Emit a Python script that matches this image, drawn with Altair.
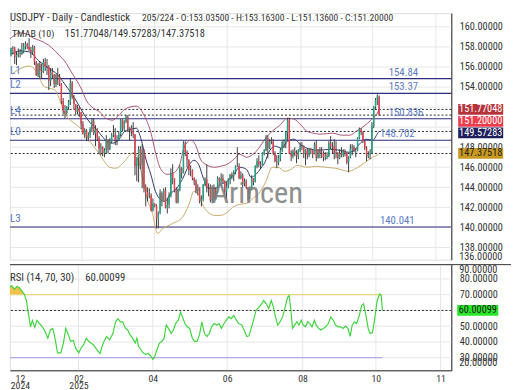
import altair as alt
import pandas as pd

# ---------------- data ----------------
# daily closes / highs / lows, 26 Dec 2024 .. 10 Oct 2025
close_dec = [157.88, 157.85, 156.98, 157.20]
close_jan = [157.40, 157.30, 157.60, 158.05, 158.30, 158.05, 157.70, 157.50, 158.00, 156.50, 155.20,
             156.30, 155.60, 155.50, 156.50, 156.00, 156.00, 154.60, 155.50, 155.20, 154.30, 155.20]
close_feb = [155.00, 154.30, 152.60, 151.60, 151.40, 152.00, 152.50, 154.40, 153.00, 152.30, 151.50,
             151.90, 151.50, 150.30, 149.30, 149.70, 149.00, 149.20, 149.80, 150.60]
close_mar = [149.40, 149.80, 148.90, 147.90, 148.00, 147.40, 147.70, 148.70, 147.80, 148.60, 149.20,
             149.30, 148.70, 148.70, 149.30, 150.70, 149.90, 150.60, 151.00, 149.80, 149.90]
close_apr = [149.60, 149.30, 146.10, 146.90, 147.80, 146.20, 147.70, 144.00, 143.50, 143.10, 143.20,
             141.70, 142.40, 142.20, 140.90, 141.50, 143.40, 142.60, 143.70, 142.00, 142.30, 143.10]
close_may = [145.40, 144.90, 143.70, 142.50, 143.80, 145.90, 145.40, 148.40, 147.50, 146.70, 145.70,
             145.70, 144.90, 144.60, 143.60, 144.00, 142.60, 142.80, 144.30, 144.80, 144.00, 144.00]
close_jun = [142.70, 144.00, 142.80, 143.50, 144.90, 144.60, 144.90, 144.60, 143.50, 144.10, 144.80,
             145.30, 145.10, 145.50, 146.10, 146.10, 144.90, 145.20, 144.40, 144.60, 144.00]
close_jul = [143.40, 143.70, 144.90, 144.50, 146.10, 146.60, 146.30, 146.20, 147.40, 147.70, 148.90,
             147.90, 148.60, 148.60, 147.40, 146.60, 146.50, 146.90, 147.70, 148.50, 148.50, 149.50, 150.70]
close_aug = [147.40, 147.10, 147.60, 147.40, 147.10, 147.70, 148.10, 148.10, 147.40, 147.70, 147.20,
             147.80, 147.70, 147.30, 148.30, 146.90, 147.70, 147.40, 147.40, 147.00, 147.00]
close_sep = [147.10, 148.40, 148.10, 148.10, 147.40, 147.50, 146.90, 147.40, 147.20, 147.60, 147.40,
             146.50, 146.90, 147.90, 148.00, 147.70, 147.70, 148.90, 149.80, 149.50, 148.60, 147.90]
close_oct = [147.10, 147.30, 147.40, 150.10, 152.00, 152.70, 153.03, 151.20]

high_dec = [157.93, 158.08, 158.00, 157.50]
high_jan = [157.85, 157.80, 158.40, 158.40, 158.55, 158.40, 158.87, 158.00, 158.20, 158.10, 156.60,
            156.40, 156.60, 156.30, 156.80, 156.90, 156.80, 156.20, 155.90, 155.90, 155.30, 155.30]
high_feb = [155.90, 155.30, 154.40, 152.90, 152.20, 152.10, 152.70, 154.80, 154.60, 153.20, 152.20,
            152.20, 152.00, 151.50, 150.60, 149.90, 149.80, 149.50, 150.00, 150.90]
high_mar = [150.90, 150.20, 149.90, 149.10, 148.40, 148.10, 147.90, 149.20, 148.80, 148.90, 149.40,
            150.20, 149.90, 149.20, 149.60, 150.80, 150.80, 150.70, 151.20, 151.20, 150.00]
high_apr = [150.20, 150.50, 149.30, 147.00, 148.10, 148.10, 148.30, 147.80, 144.30, 144.00, 143.90,
            143.40, 142.90, 142.40, 142.30, 141.60, 143.80, 143.60, 143.90, 144.00, 142.90, 143.50]
high_may = [145.90, 146.30, 144.90, 144.00, 143.90, 146.20, 146.00, 148.60, 148.60, 147.70, 146.80,
            146.20, 145.80, 145.00, 144.80, 144.30, 144.00, 143.20, 144.30, 145.00, 146.30, 144.40]
high_jun = [144.30, 144.20, 144.30, 144.00, 145.10, 145.00, 145.40, 145.30, 144.70, 144.50, 144.90,
            145.30, 145.50, 145.70, 146.20, 148.00, 146.40, 145.60, 145.40, 144.90, 144.80]
high_jul = [144.00, 144.10, 145.20, 144.90, 146.20, 146.90, 147.20, 146.60, 147.50, 147.80, 149.20,
            149.20, 148.80, 149.00, 148.80, 147.60, 147.20, 147.20, 147.90, 148.60, 148.80, 149.50, 150.90]
high_aug = [150.90, 147.70, 147.80, 148.00, 147.70, 147.80, 148.50, 148.50, 148.20, 147.80, 147.90,
            147.90, 147.90, 147.70, 148.50, 148.70, 147.80, 148.00, 148.00, 147.60, 147.50]
high_sep = [147.50, 148.60, 149.10, 148.50, 148.80, 148.60, 147.50, 147.80, 148.00, 147.80, 147.80,
            147.50, 147.10, 148.30, 148.30, 148.20, 147.90, 149.00, 149.96, 149.90, 149.60, 148.70]
high_oct = [148.10, 147.60, 147.80, 150.50, 152.10, 152.90, 153.27, 153.163]

low_dec = [157.05, 157.25, 156.30, 156.20]
low_jan = [156.95, 156.95, 157.20, 157.35, 157.75, 157.80, 157.60, 156.90, 157.20, 156.20, 155.10,
           155.00, 154.80, 154.90, 155.40, 155.60, 155.20, 153.70, 154.10, 154.90, 153.90, 154.00]
low_feb = [154.20, 154.10, 152.30, 151.30, 150.90, 151.30, 151.70, 152.20, 152.80, 151.80, 151.20,
           151.30, 151.00, 149.80, 149.30, 148.90, 148.60, 148.60, 148.90, 149.50]
low_mar = [149.20, 148.10, 148.60, 147.30, 147.20, 147.10, 147.00, 147.40, 147.40, 147.70, 148.40,
           149.00, 148.20, 148.20, 148.60, 149.10, 149.60, 149.60, 150.40, 149.50, 148.70]
low_apr = [149.10, 148.90, 145.20, 144.60, 144.50, 145.80, 143.90, 143.50, 142.10, 142.60, 142.90,
           141.60, 141.60, 142.00, 139.90, 139.90, 141.30, 142.10, 142.60, 141.90, 141.40, 141.90]
low_may = [143.00, 144.30, 143.50, 142.40, 142.40, 143.60, 144.90, 145.40, 147.10, 146.00, 145.20,
           145.10, 144.70, 144.20, 143.40, 143.20, 142.40, 142.10, 142.60, 144.10, 143.50, 143.10]
low_jun = [142.50, 142.40, 142.60, 142.80, 143.40, 144.30, 144.50, 144.40, 143.20, 142.80, 143.90,
           144.30, 144.80, 144.60, 145.30, 146.00, 144.80, 144.80, 144.00, 144.10, 143.80]
low_jul = [142.70, 142.80, 143.70, 144.20, 144.50, 145.90, 146.00, 145.80, 146.20, 147.20, 147.60,
           146.90, 147.80, 148.30, 147.20, 146.50, 145.90, 146.20, 146.60, 147.50, 147.90, 147.90, 148.60]
low_aug = [147.30, 146.60, 146.90, 147.10, 146.40, 146.80, 147.50, 147.70, 146.90, 146.20, 146.80,
           147.00, 147.30, 146.90, 147.30, 146.60, 146.90, 146.90, 146.90, 146.60, 146.70]
low_sep = [146.80, 147.00, 147.80, 147.40, 146.80, 146.90, 146.30, 146.80, 147.00, 147.00, 147.10,
           146.30, 145.50, 146.90, 147.20, 147.50, 147.00, 147.60, 148.80, 149.20, 148.40, 147.70]
low_oct = [146.60, 146.90, 146.80, 147.40, 149.90, 151.80, 152.20, 151.136]

first_open = 157.20

# TMA bands (bar index, value)
tma_up_bar = [-1.1, 2.1, 4.7, 8.5, 12.2, 16.5, 20.7, 24.5, 27.1, 29.8, 33.5, 36.7, 38.9, 42.1, 45.8, 49.5,
              52.7, 56.5, 59.6, 62.8, 66.0, 69.8, 74.0, 77.8, 80.4, 83.1, 86.8, 90.0, 93.8, 96.4, 100.2,
              102.8, 105.5, 108.2, 113.5, 116.7, 120.4, 124.1, 127.3, 131.1, 134.8, 138.0, 141.7, 145.5,
              149.7, 154.0, 157.7, 161.5, 164.7, 168.4, 172.1, 179.1, 184.4, 188.6, 192.4, 196.6, 200.4,
              204.6, 205.0]
tma_up_val = [158.7, 159.2, 159.4, 159.3, 158.9, 158.6, 158.2, 157.6, 157.1, 156.6, 155.5, 154.6, 153.9,
              152.6, 151.9, 151.5, 150.9, 150.7, 151.1, 151.7, 152.0, 152.1, 151.2, 149.5, 147.5, 145.9,
              145.3, 145.4, 146.2, 148.0, 148.7, 148.2, 146.8, 146.3, 146.0, 146.1, 146.3, 146.8, 147.3,
              147.0, 147.3, 147.9, 148.9, 149.6, 150.2, 150.9, 150.8, 150.2, 149.6, 149.4, 149.3, 149.4,
              149.2, 149.2, 149.6, 150.1, 150.7, 151.6, 151.77048]
tma_mid_bar = [0.5, 4.7, 10.1, 15.4, 20.7, 26.1, 29.8, 33.5, 36.7, 40.5, 44.2, 47.4, 51.1, 53.8, 56.5,
               60.2, 63.4, 67.1, 69.8, 72.4, 75.1, 77.8, 80.4, 83.1, 85.8, 88.4, 92.2, 95.4, 99.1, 101.8,
               104.4, 107.1, 109.8, 113.5, 116.7, 120.4, 124.1, 127.3, 131.1, 133.7, 136.4, 139.1, 141.7,
               143.3, 147.1, 150.8, 154.0, 157.7, 161.5, 166.8, 172.1, 177.4, 182.8, 188.1, 191.3, 194.0,
               197.7, 201.4, 204.6, 205.0]
tma_mid_val = [157.3, 157.6, 157.5, 156.6, 155.9, 155.2, 154.3, 153.4, 152.5, 151.3, 150.4, 149.8, 149.0,
               148.5, 148.4, 148.8, 149.6, 149.8, 149.9, 148.8, 146.8, 145.3, 143.6, 142.8, 142.6, 143.3,
               143.9, 144.8, 146.2, 146.7, 146.3, 144.9, 143.9, 143.9, 144.3, 144.6, 145.3, 146.0, 145.8,
               145.0, 145.3, 145.9, 146.6, 147.4, 148.1, 147.9, 148.6, 148.8, 148.2, 147.8, 147.7, 147.8,
               147.7, 147.5, 147.7, 148.3, 148.8, 148.7, 149.5, 149.57283]
tma_low_bar = [0.5, 4.7, 10.1, 14.9, 18.1, 20.7, 24.5, 27.1, 29.8, 33.5, 36.7, 40.5, 44.2, 48.5, 51.1,
               54.9, 58.1, 62.8, 66.0, 68.7, 70.8, 73.5, 76.2, 78.8, 80.4, 81.5, 84.7, 90.0, 95.4, 99.1,
               101.8, 104.4, 107.1, 109.8, 113.5, 116.7, 120.4, 124.1, 127.3, 131.1, 134.8, 138.0, 141.7,
               145.5, 148.7, 152.4, 156.1, 159.3, 164.7, 170.0, 175.3, 180.7, 188.1, 191.3, 195.0, 198.8,
               201.4, 204.6, 205.0]
tma_low_val = [155.3, 155.8, 156.1, 155.3, 154.1, 153.9, 153.7, 152.7, 151.4, 150.6, 150.2, 149.5, 148.5,
               147.5, 146.8, 146.0, 145.9, 146.5, 147.2, 147.5, 146.8, 144.6, 142.6, 141.4, 140.0, 139.4,
               139.9, 140.4, 141.0, 142.3, 143.6, 143.3, 142.1, 141.5, 141.2, 141.2, 141.5, 142.1, 142.3,
               142.4, 142.9, 143.4, 144.5, 146.0, 146.0, 145.6, 145.8, 146.2, 146.0, 146.1, 146.0, 145.9,
               145.6, 145.8, 146.2, 146.7, 147.0, 147.3, 147.37518]

# RSI (bar index, value)
rsi_bar = [-0.7, 0.5, 1.7, 3.1, 4.6, 5.8, 7.1, 8.5, 9.9, 11.1, 12.0, 13.3, 14.3, 15.6, 16.8, 18.2, 19.7,
           21.3, 22.7, 24.1, 25.4, 26.6, 28.0, 29.8, 31.2, 32.5, 33.9, 35.1, 36.6, 37.8, 39.6, 40.8, 42.2,
           43.7, 44.9, 46.2, 47.5, 49.4, 51.1, 52.9, 54.7, 56.4, 58.2, 59.6, 60.9, 62.2, 63.5, 65.0, 66.2,
           67.5, 68.9, 70.3, 71.2, 72.1, 73.3, 74.6, 76.0, 77.4, 78.7, 79.9, 81.0, 82.2, 83.5, 84.9, 86.1,
           87.2, 88.4, 89.9, 91.1, 92.3, 93.8, 95.0, 96.1, 97.3, 98.6, 100.0, 101.4, 102.7, 104.0, 105.3,
           106.6, 108.0, 109.4, 110.7, 111.9, 113.3, 114.7, 116.0, 117.2, 118.7, 120.0, 121.3, 122.7, 124.0,
           125.4, 126.7, 128.4, 129.6, 131.1, 132.3, 133.7, 135.0, 136.2, 137.8, 139.1, 140.3, 141.7, 143.0,
           144.4, 145.6, 146.7, 148.0, 149.2, 150.6, 152.0, 153.3, 154.2, 155.1, 156.0, 157.2, 158.3, 159.5,
           160.8, 161.8, 163.1, 164.3, 165.4, 166.6, 167.9, 168.9, 170.2, 171.4, 172.8, 174.1, 175.5, 176.9,
           178.2, 179.4, 180.8, 182.2, 183.5, 184.8, 186.2, 187.4, 188.5, 189.7, 190.9, 192.4, 193.6, 194.7,
           196.0, 197.2, 198.2, 199.5, 200.8, 202.1, 203.4, 204.3, 205.0]
rsi_val = [81.8, 75.6, 74.5, 75.6, 73.4, 75.2, 74.5, 72.4, 70.3, 66.1, 58.9, 49.6, 53.7, 49.2, 53.7, 51.7,
           49.6, 46.5, 42.4, 47.6, 48.6, 42.4, 33.1, 33.1, 39.3, 48.6, 44.5, 40.4, 41.0, 36.2, 33.1, 36.2,
           38.3, 42.4, 40.4, 39.3, 38.3, 35.2, 32.7, 39.3, 43.5, 41.4, 45.5, 52.8, 54.8, 52.8, 52.8, 48.6,
           47.6, 44.5, 42.4, 39.3, 42.4, 37.3, 35.2, 33.1, 32.1, 32.7, 31.1, 29.0, 31.1, 35.2, 39.3, 40.4,
           42.4, 50.7, 48.6, 45.5, 47.6, 51.7, 53.8, 58.9, 55.9, 51.7, 49.6, 48.6, 42.4, 40.4, 40.4, 44.5,
           52.8, 45.5, 43.5, 45.5, 49.6, 51.7, 50.7, 51.7, 48.6, 51.7, 53.8, 55.9, 54.8, 56.9, 53.8, 51.7,
           50.7, 47.6, 43.5, 43.9, 49.6, 54.8, 60.3, 62.1, 64.2, 66.3, 64.2, 61.1, 66.3, 62.1, 55.9, 50.7,
           52.8, 55.9, 62.1, 68.3, 69.4, 60.1, 48.6, 50.7, 52.8, 50.7, 53.8, 50.7, 49.6, 52.8, 51.7, 49.6,
           53.8, 50.7, 48.6, 47.6, 48.6, 49.6, 51.7, 55.9, 53.8, 50.7, 49.6, 49.6, 48.6, 50.1, 48.6, 43.5,
           50.7, 52.8, 51.7, 56.9, 63.1, 64.2, 56.9, 48.6, 45.5, 45.9, 54.8, 66.3, 70.4, 69.4, 60.00099]

levels = [154.84, 153.37, 150.836, 148.702, 140.041]
level_tags = ["L1", "L2", "L4", "L0", "L3"]
level_texts = ["154.84", "153.37", "150.836", "148.702", "140.041"]

last_vals = [151.77048, 151.20000, 149.57283, 147.37518]
last_txts = ["151.77048", "151.20000", "149.57283", "147.37518"]
rsi_last = 60.00099
rsi_bounds = [70, 30]
rsi_span = [0, 205]

# tick labels that the reference shows (150, 152 and 60 lie hidden under the value boxes)
price_ticks = [138, 140, 142, 144, 146, 148, 154, 156, 158, 160]
price_tick_low = [136]
rsi_ticks = [30, 40, 50, 70, 80]
rsi_grid_vals = [30, 40, 50, 60, 70, 80]
rsi_tick_top = [90]
rsi_tick_bottom = [20]
price_grid_vals = [138, 140, 142, 144, 146, 148, 150, 152, 154, 156, 158, 160]

month_grid = [-0.6, 39.4, 79.9, 120.4, 161.5, 201.4, 236.6]
month_label_pos = [7.5, 39.4, 79.9, 120.4, 161.5, 201.4, 236.6]
month_labels = [["12", "2024"], ["02", "2025"], ["04"], ["06"], ["08"], ["10"], ["11"]]

header_1 = "USDJPY - Daily - Candlestick"
header_2 = "205/224 - O:153.03500 - H:153.16300 - L:151.13600 - C:151.20000"
tma_title = "TMAB (10)"
tma_values = "151.77048/149.57283/147.37518"
rsi_title = "RSI (14, 70, 30)"
rsi_value_txt = "60.00099"
watermark = "Arincen"

# ---------------- styles ----------------
FONT = "Roboto Condensed, Liberation Sans, sans-serif"
TXT = "#333333"
GRID = "#e6e6e6"
NAVY = "#2d2d7d"
LVL_TXT = "#5b7bc4"
UP = "#22a385"
DOWN = "#e6414f"
WICK = "#3a3a3a"
C_UP_BAND = "#a9566b"
C_MID_BAND = "#2e3668"
C_LOW_BAND = "#c9aa6a"
RSI_LINE = "#3fd43f"
AX_FS = 10.5
W, H_MAIN, H_RSI = 451, 252, 108
Y_MAIN = [136.78, 161.37]
Y_RSI = [22.0, 89.07]
X_DOM = [2.08, 242.5]

close = (close_dec + close_jan + close_feb + close_mar + close_apr + close_may + close_jun + close_jul
         + close_aug + close_sep + close_oct)
high = (high_dec + high_jan + high_feb + high_mar + high_apr + high_may + high_jun + high_jul + high_aug
        + high_sep + high_oct)
low = (low_dec + low_jan + low_feb + low_mar + low_apr + low_may + low_jun + low_jul + low_aug + low_sep
       + low_oct)
n = min(len(close), len(high), len(low))
opens = [first_open] + close[: n - 1]
candles = pd.DataFrame({
    "i": list(range(n)),
    "open": opens,
    "close": close[:n],
    "high": [max(h, o, c) for h, o, c in zip(high[:n], opens, close[:n])],
    "low": [min(l, o, c) for l, o, c in zip(low[:n], opens, close[:n])],
})

xs = alt.Scale(domain=X_DOM, nice=False, zero=False)
ys = alt.Scale(domain=Y_MAIN, nice=False, zero=False, clamp=True)
yr = alt.Scale(domain=Y_RSI, nice=False, zero=False, clamp=True)

axis_main = alt.Axis(orient="right", values=price_ticks, format=".5f", ticks=False, labelPadding=8,
                     grid=False, domain=True, domainColor="#222222", title=None,
                     labelFont=FONT, labelFontSize=AX_FS, labelColor=TXT)

parts = []
for k, (pos, lab) in enumerate(zip(month_label_pos, month_labels)):
    arr = "[" + ",".join("'%s'" % s for s in lab) + "]"
    if k < len(month_label_pos) - 1:
        parts.append("datum.value < %s ? %s : " % ((pos + month_label_pos[k + 1]) / 2, arr))
    else:
        parts.append(arr)
label_expr = "".join(parts)

axis_x = alt.Axis(values=month_label_pos, labelExpr=label_expr, ticks=False, grid=False, domain=True,
                  domainColor="#222222", labelPadding=3, labelFont=FONT, labelFontSize=10,
                  labelLineHeight=8, labelColor=TXT, title=None)
axis_r = alt.Axis(orient="right", values=rsi_ticks, format=".5f", ticks=False, labelPadding=8, grid=False,
                  domain=True, domainColor="#222222", title=None, labelFont=FONT,
                  labelFontSize=AX_FS, labelColor=TXT)


def X(f):
    return alt.X(f, type="quantitative", scale=xs, axis=None)


def XR(f):
    return alt.X(f, type="quantitative", scale=xs, axis=axis_x)


def Y(f):
    return alt.Y(f, type="quantitative", scale=ys, axis=axis_main)


def YR(f):
    return alt.Y(f, type="quantitative", scale=yr, axis=axis_r)


def label(txt, x, y, size=11, color=TXT, align="left", baseline="middle"):
    return alt.Chart(pd.DataFrame({"t": [txt]})).mark_text(
        align=align, baseline=baseline, font=FONT, fontSize=size, color=color
    ).encode(x=alt.value(x), y=alt.value(y), text="t:N")


# ---------------- main panel ----------------
grid_df = pd.DataFrame({"i": month_grid})
vgrid = alt.Chart(grid_df).mark_rule(color=GRID, strokeWidth=1, clip=True).encode(x=X("i"))
hgrid = alt.Chart(pd.DataFrame({"v": price_grid_vals})).mark_rule(color=GRID, strokeWidth=1).encode(
    y=Y("v"))

lv_df = pd.DataFrame({"v": levels, "tag": level_tags, "txt": level_texts,
                      "px": [387, 387, 387, 378, 378]})
lv_lines = alt.Chart(lv_df).mark_rule(color=NAVY, strokeWidth=1.1).encode(y=Y("v"))
lv_tags = alt.Chart(lv_df).mark_text(align="left", baseline="bottom", dy=-3, font=FONT, fontSize=11.5,
                                     color=LVL_TXT).encode(x=alt.value(0), y=Y("v"), text="tag:N")
lv_txts = alt.Chart(lv_df).mark_text(align="left", baseline="bottom", dy=-1, font=FONT, fontSize=11,
                                     color=LVL_TXT).encode(x=alt.X("px:Q", scale=None), y=Y("v"),
                                                           text="txt:N")

dot_df = pd.DataFrame({"v": last_vals})
dots = alt.Chart(dot_df).mark_rule(color="#222222", strokeWidth=1, strokeDash=[2, 2]).encode(y=Y("v"))


def band(bars, vals, color):
    d = pd.DataFrame({"i": bars, "v": vals})
    return alt.Chart(d).mark_line(color=color, strokeWidth=1, clip=True, interpolate="monotone").encode(
        x=X("i"), y=Y("v"))


b_up = band(tma_up_bar, tma_up_val, C_UP_BAND)
b_mid = band(tma_mid_bar, tma_mid_val, C_MID_BAND)
b_low = band(tma_low_bar, tma_low_val, C_LOW_BAND)

wicks = alt.Chart(candles).mark_rule(color=WICK, strokeWidth=1, clip=True).encode(
    x=X("i"), y=Y("low"), y2="high:Q")
bodies = alt.Chart(candles).mark_bar(size=1.5, clip=True).encode(
    x=X("i"), y=Y("open"), y2="close:Q",
    color=alt.condition("datum.close >= datum.open", alt.value(UP), alt.value(DOWN)))

wm = alt.Chart(pd.DataFrame({"t": [watermark]})).mark_text(
    align="left", baseline="alphabetic", font=FONT, fontSize=31, color="#7b7b7b", opacity=0.85
).encode(x=alt.value(206), y=alt.value(194), text="t:N")

ppu = H_MAIN / (Y_MAIN[1] - Y_MAIN[0])
shift_px = [0, 6.5, 1.5, 0]
half = 5.5
box_df = pd.DataFrame({
    "txt": last_txts,
    "c": [v - s / ppu for v, s in zip(last_vals, shift_px)],
    "bg": ["#b5343c", "#ec3d4c", "#1f1f5c", "#c99a22"],
    "fg": ["#ffffff", "#ffffff", "#ffffff", "#1e1e1e"],
})
box_df["top"] = box_df["c"] + half / ppu
box_df["bot"] = box_df["c"] - half / ppu
boxes = alt.Chart(box_df).mark_rect().encode(
    x=alt.value(458), x2=alt.value(504), y=Y("top"), y2="bot:Q", color=alt.Color("bg:N", scale=None))
box_txt = alt.Chart(box_df).mark_text(align="center", baseline="middle", font=FONT, fontSize=AX_FS).encode(
    x=alt.value(481), y=Y("c"), text="txt:N", color=alt.Color("fg:N", scale=None))

low_tick = alt.Chart(pd.DataFrame({"p": price_tick_low})).mark_text(
    align="left", baseline="middle", dy=-2.5, font=FONT, fontSize=AX_FS, color=TXT
).encode(x=alt.value(W + 8), y=Y("p"), text=alt.Text("p:Q", format=".5f"))

main = alt.layer(
    hgrid, vgrid, lv_lines, dots, b_up, b_low, b_mid, wicks, bodies, wm, lv_tags, lv_txts,
    boxes, box_txt, low_tick,
    label(header_1, 0, 5.5, size=11), label(header_2, 135, 5.5, size=9.8),
    label(tma_title, 2, 21.5, size=10.2), label(tma_values, 56, 21.5, size=10.7),
).properties(width=W, height=H_MAIN)

# ---------------- RSI panel ----------------
rsi_df = pd.DataFrame({"i": rsi_bar, "v": rsi_val})
rsi_line = alt.Chart(rsi_df).mark_line(color=RSI_LINE, strokeWidth=1.2, clip=True).encode(
    x=XR("i"), y=YR("v"))
rsi_fill = alt.Chart(rsi_df).transform_calculate(
    top="max(datum.v, 70)", base="70").mark_area(color="#f3bd3a", opacity=0.9, clip=True).encode(
    x=XR("i"), y=YR("top"), y2="base:Q")
rsi_vgrid = alt.Chart(grid_df).mark_rule(color=GRID, strokeWidth=1, clip=True).encode(x=XR("i"))
rsi_hgrid = alt.Chart(pd.DataFrame({"v": rsi_grid_vals})).mark_rule(color=GRID, strokeWidth=1).encode(
    y=YR("v"))
bnd_df = pd.DataFrame({"v": rsi_bounds, "a": [rsi_span[0]] * 2, "b": [rsi_span[1]] * 2,
                       "col": ["#e6d67c", "#b9a8e8"]})
rsi_bnd = alt.Chart(bnd_df).mark_rule(strokeWidth=1.3, clip=True).encode(
    x=XR("a"), x2="b:Q", y=YR("v"), color=alt.Color("col:N", scale=None))
rsi_dot = alt.Chart(pd.DataFrame({"v": [rsi_last]})).mark_rule(
    color="#222222", strokeWidth=1, strokeDash=[2, 2]).encode(y=YR("v"))
rppu = H_RSI / (Y_RSI[1] - Y_RSI[0])
rsi_box_df = pd.DataFrame({"v": [rsi_last], "txt": [rsi_value_txt]})
rsi_box_df["top"] = rsi_box_df["v"] + 5.5 / rppu
rsi_box_df["bot"] = rsi_box_df["v"] - 5.5 / rppu
rsi_box = alt.Chart(rsi_box_df).mark_rect(color="#2ae62a").encode(
    x=alt.value(457), x2=alt.value(499), y=YR("top"), y2="bot:Q")
rsi_box_t = alt.Chart(rsi_box_df).mark_text(align="center", baseline="middle", font=FONT, fontSize=AX_FS,
                                            color="#1e1e1e").encode(x=alt.value(478), y=YR("v"),
                                                                    text="txt:N")
rsi_top_t = alt.Chart(pd.DataFrame({"p": rsi_tick_top})).mark_text(
    align="left", baseline="top", dy=1, font=FONT, fontSize=AX_FS, color=TXT
).encode(x=alt.value(W + 8), y=YR("p"), text=alt.Text("p:Q", format=".5f"))
rsi_bot_t = alt.Chart(pd.DataFrame({"p": rsi_tick_bottom})).mark_text(
    align="left", baseline="bottom", dy=-2, font=FONT, fontSize=AX_FS, color=TXT
).encode(x=alt.value(W + 8), y=YR("p"), text=alt.Text("p:Q", format=".5f"))
sep = alt.Chart(pd.DataFrame({"k": [0]})).mark_rule(color="#333333", strokeWidth=1).encode(
    x=alt.value(0), x2=alt.value(512), y=alt.value(0))

rsi = alt.layer(
    rsi_hgrid, rsi_vgrid, rsi_fill, rsi_bnd, rsi_dot, rsi_line, rsi_box, rsi_box_t, rsi_top_t, rsi_bot_t,
    sep, label(rsi_title, 0, 13.5, size=11), label(rsi_value_txt, 77, 13.5, size=11),
).properties(width=W, height=H_RSI)

chart = alt.vconcat(main, rsi, spacing=0).properties(padding=0).configure_view(
    stroke=None).configure(background="white")

chart.save("out.html", embed_options={"renderer": "svg", "actions": False})
